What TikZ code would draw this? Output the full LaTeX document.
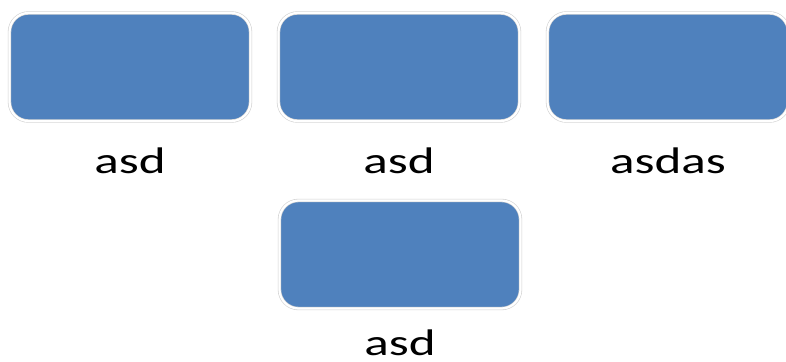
\documentclass[tikz,border=0pt]{standalone}
\usepackage{fontspec}
\setmainfont{Carlito}
\begin{document}
\begin{tikzpicture}[x=1pt,y=-1pt,
  box/.style={rectangle, rounded corners=19pt, fill=boxblue, draw=black!18, double=white, double distance=2.2pt, line width=0.6pt, minimum width=241pt, minimum height=108pt, inner sep=0pt},
  lbl/.style={anchor=base, inner sep=0pt, font=\fontsize{37}{40}\selectfont}]
\definecolor{boxblue}{HTML}{4F81BD}
\useasboundingbox (0,0) rectangle (786,361);
\clip (0,0) rectangle (786,361);
\node[box] (b1) at (130,67) {};
\node[box] (b2) at (399,67) {};
\node[box] (b3) at (668,67) {};
\node[box] (b4) at (400,254.5) {};
\node[lbl] (t1) at (130,173) {\scalebox{1.38}[1]{asd}};
\node[lbl] (t2) at (399,173) {\scalebox{1.38}[1]{asd}};
\node[lbl] (t3) at (668,173) {\scalebox{1.38}[1]{asdas}};
\node[lbl] (t4) at (400,355) {\scalebox{1.38}[1]{asd}};
\end{tikzpicture}
\end{document}
